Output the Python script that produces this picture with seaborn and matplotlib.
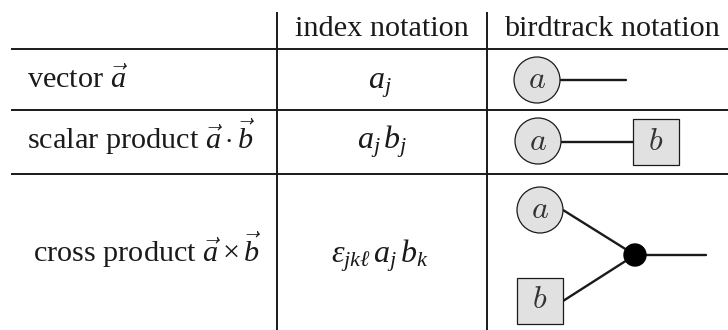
import matplotlib
matplotlib.use("Agg")
import matplotlib.pyplot as plt
import matplotlib.patches as mpatches
import seaborn as sns
import pandas as pd

# ---- table content ----
headers = ["index notation", "birdtrack notation"]
row_labels = [r"vector $\vec{a}$",
              r"scalar product $\vec{a}\cdot\vec{b}$",
              r"cross product $\vec{a}\times\vec{b}$"]
index_notation = [r"$a_j$", r"$a_j\,b_j$", r"$\varepsilon_{jk\ell}\,a_j\,b_k$"]
node_a = r"$a$"
node_b = r"$b$"

sns.set_theme(style="white")
plt.rcParams["font.family"] = ["Liberation Serif", "DejaVu Serif"]
plt.rcParams["mathtext.fontset"] = "custom"
plt.rcParams["mathtext.rm"] = "Liberation Serif"
plt.rcParams["mathtext.it"] = "Liberation Serif:italic"
plt.rcParams["mathtext.bf"] = "Liberation Serif:bold"

W, H = 728, 330
fig = plt.figure(figsize=(W / 100, H / 100), dpi=100)
ax = fig.add_axes([0, 0, 1, 1])
ax.set_xlim(0, W)
ax.set_ylim(H, 0)
ax.set_aspect("equal")
ax.axis("off")

# ---- layout ----
col_x = [277, 487]
rule_y = [49, 110, 174]
rule_lw = 1.4
txt_size = 21.8
idx_size = 23
ink = "#1a1a1a"

for x in col_x:
    ax.plot([x, x], [12, H], color=ink, lw=rule_lw, solid_capstyle="butt")
for y in rule_y:
    ax.plot([11, W], [y, y], color=ink, lw=rule_lw, solid_capstyle="butt")

# headers
ax.text(382, 36, headers[0], ha="center", va="baseline", fontsize=txt_size, color=ink)
ax.text(612, 36, headers[1], ha="center", va="baseline", fontsize=txt_size, color=ink)

# row labels and index notation
baselines = [88, 149, 262]
ax.text(27, baselines[0], row_labels[0], ha="left", va="baseline", fontsize=txt_size, color=ink)
ax.text(27, baselines[1], row_labels[1], ha="left", va="baseline", fontsize=txt_size, color=ink)
ax.text(147, baselines[2], row_labels[2], ha="center", va="baseline", fontsize=txt_size, color=ink)
idx_x = [380, 382, 380]
for i in range(3):
    ax.text(idx_x[i], baselines[i], index_notation[i], ha="center", va="baseline",
            fontsize=idx_size, color=ink)

# ---- birdtracks ----
fill = "#e1e1e1"
edge_lw = 1.7
node_size = 23
R = 23


def circle_node(cx, cy, label):
    ax.add_patch(mpatches.Circle((cx, cy), R, facecolor=fill, edgecolor=ink, lw=0.9, zorder=3))
    ax.text(cx, cy + 1, label, ha="center", va="center", fontsize=node_size,
            math_fontfamily="cm", color="#333333", zorder=4)


def box_node(cx, cy, label):
    ax.add_patch(mpatches.Rectangle((cx - R, cy - R), 2 * R, 2 * R, facecolor=fill,
                                    edgecolor=ink, lw=0.9, zorder=3))
    ax.text(cx, cy, label, ha="center", va="center", fontsize=node_size,
            math_fontfamily="cm", color="#333333", zorder=4)


def edge(x0, y0, x1, y1):
    seg = pd.DataFrame({"x": [x0, x1], "y": [y0, y1]})
    sns.lineplot(data=seg, x="x", y="y", ax=ax, color=ink, lw=edge_lw,
                 sort=False, estimator=None, zorder=2)


# row 1
circle_node(537, 80, node_a)
edge(537 + R, 80, 626, 80)
# row 2
circle_node(538, 141, node_a)
edge(538 + R, 142, 656 - R, 142)
box_node(656, 142, node_b)
# row 3
circle_node(540, 210, node_a)
box_node(540, 301, node_b)
dot = (635, 255)
edge(540 + R, 210, *dot)
edge(540 + R, 301, *dot)
edge(dot[0], dot[1], 706, dot[1])
ax.add_patch(mpatches.Circle(dot, 11, facecolor="black", edgecolor="black", zorder=5))

ax.set_xlim(0, W)
ax.set_ylim(H, 0)
ax.axis("off")
fig.savefig("out.png", dpi=100)
